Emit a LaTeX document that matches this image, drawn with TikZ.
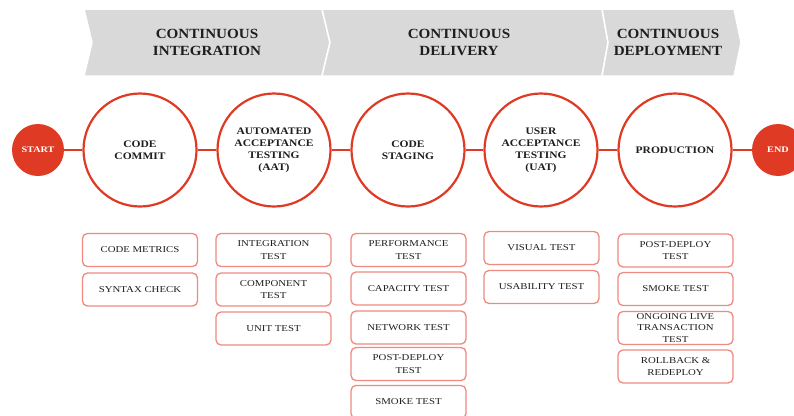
\documentclass[tikz,border=0pt]{standalone}
\usepackage{fontspec}
\setmainfont{Liberation Serif}
\newfontfamily\hdfont[FakeStretch=1.08]{Liberation Serif}
\newfontfamily\stfont[FakeStretch=1.15]{Liberation Serif}
\newfontfamily\bxfont[FakeStretch=1.2]{Liberation Serif}
\definecolor{cdred}{HTML}{DE3A24}
\definecolor{boxred}{HTML}{EE8A80}
\definecolor{bannergray}{HTML}{D9D9D9}
\definecolor{txtdark}{HTML}{1E1E1E}
\begin{document}
\begin{tikzpicture}[x=1pt,y=-1pt,
  banner/.style={fill=bannergray,draw=white,line width=1.5pt,line join=miter},
  bannertext/.style={font=\hdfont\fontsize{14}{16.5}\selectfont\bfseries,text=txtdark,align=center},
  stage/.style={circle,draw=cdred,line width=2.2pt,fill=white,minimum size=113pt,inner sep=0pt,
    font=\stfont\fontsize{10}{12}\selectfont\bfseries,text=txtdark,align=center},
  terminal/.style={circle,fill=cdred,minimum size=52pt,inner sep=0pt,
    font=\bxfont\fontsize{8.5}{8.5}\selectfont\bfseries,text=white},
  link/.style={draw=cdred,line width=2pt},
  testbox/.style={rectangle,rounded corners=5pt,draw=boxred,line width=1.3pt,fill=white,
    minimum width=115pt,minimum height=33pt,inner sep=1pt,
    font=\bxfont\fontsize{9}{12.5}\selectfont,text=txtdark,align=center}]
\useasboundingbox (0,0) rectangle (794,415);
% banner
\path[banner] (84,9) -- (322,9) -- (330,42.5) -- (322,76) -- (84,76) -- (92,42.5) -- cycle;
\path[banner] (322,9) -- (602,9) -- (608,42.5) -- (602,76) -- (322,76) -- (330,42.5) -- cycle;
\path[banner] (602,9) -- (734,9) -- (741,42.5) -- (734,76) -- (602,76) -- (608,42.5) -- cycle;
\node[bannertext] (hci) at (207,42.5) {CONTINUOUS\\INTEGRATION};
\node[bannertext] (hcd) at (459,42.5) {CONTINUOUS\\DELIVERY};
\node[bannertext] (hcp) at (668,42.5) {CONTINUOUS\\DEPLOYMENT};
% stages
\node[terminal] (start) at (38,150) {START};
\node[terminal] (end) at (778,150) {END};
\node[stage] (s1) at (140,150) {CODE\\COMMIT};
\node[stage] (s2) at (274,150) {AUTOMATED\\ACCEPTANCE\\TESTING\\(AAT)};
\node[stage] (s3) at (408,150) {CODE\\STAGING};
\node[stage] (s4) at (541,150) {USER\\ACCEPTANCE\\TESTING\\(UAT)};
\node[stage] (s5) at (675,150) {PRODUCTION};
\draw[link] (start) -- (s1);
\draw[link] (s1) -- (s2);
\draw[link] (s2) -- (s3);
\draw[link] (s3) -- (s4);
\draw[link] (s4) -- (s5);
\draw[link] (s5) -- (end);
% column 1
\node[testbox] (b11) at (140,250) {CODE METRICS};
\node[testbox] (b12) at (140,289.5) {SYNTAX CHECK};
% column 2
\node[testbox] (b21) at (273.5,250) {INTEGRATION\\TEST};
\node[testbox] (b22) at (273.5,289.5) {COMPONENT\\TEST};
\node[testbox] (b23) at (273.5,328.5) {UNIT TEST};
% column 3
\node[testbox] (b31) at (408.5,250) {PERFORMANCE\\TEST};
\node[testbox] (b32) at (408.5,288.5) {CAPACITY TEST};
\node[testbox] (b33) at (408.5,327.5) {NETWORK TEST};
\node[testbox] (b34) at (408.5,364) {POST-DEPLOY\\TEST};
\node[testbox] (b35) at (408.5,402) {SMOKE TEST};
% column 4
\node[testbox] (b41) at (541.5,248) {VISUAL TEST};
\node[testbox] (b42) at (541.5,287) {USABILITY TEST};
% column 5
\node[testbox] (b51) at (675.5,250.5) {POST-DEPLOY\\TEST};
\node[testbox] (b52) at (675.5,289) {SMOKE TEST};
\node[testbox,font=\bxfont\fontsize{9}{11.5}\selectfont] (b53) at (675.5,328) {ONGOING LIVE\\TRANSACTION\\TEST};
\node[testbox] (b54) at (675.5,366.5) {ROLLBACK \&\\REDEPLOY};
\end{tikzpicture}
\end{document}
